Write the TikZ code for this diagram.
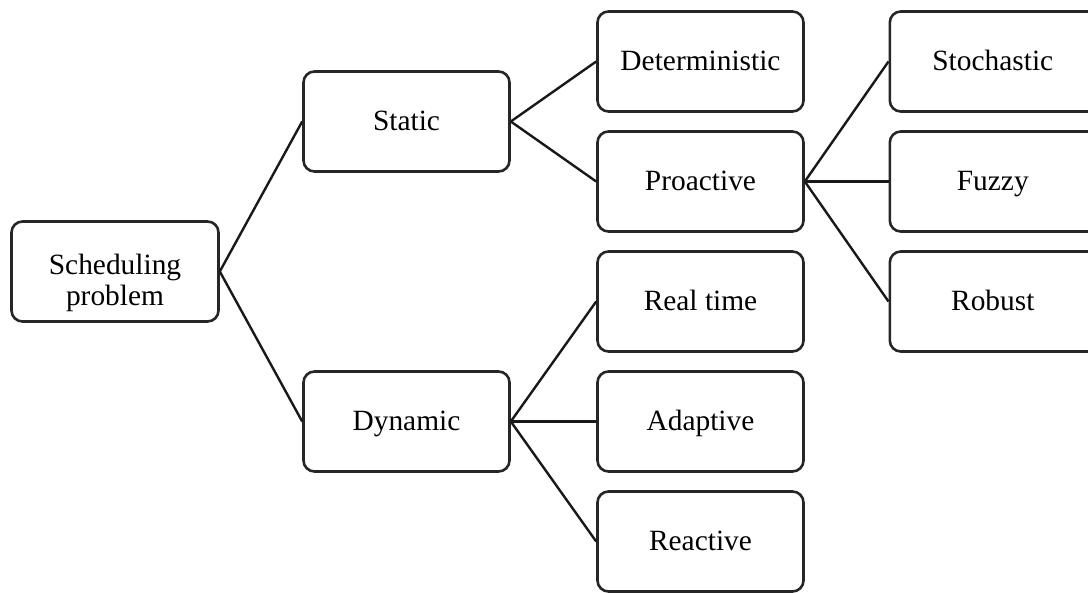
\documentclass[tikz,border=0pt]{standalone}
\usepackage{fontspec}
\setmainfont{Liberation Serif}
\begin{document}
\begin{tikzpicture}[x=1pt,y=-1pt,
  box/.style={draw=black!85, line width=2.6pt, rounded corners=11pt,
    minimum width=206pt, minimum height=100pt, inner sep=0pt,
    font=\fontsize{29.4}{31}\selectfont, text height=22pt, text depth=4pt},
  wide/.style={box, minimum width=236pt, anchor=west},
  link/.style={draw=black!90, line width=2.4pt}]
\useasboundingbox (0,0) rectangle (1088,593);
\node[box, minimum width=207pt, text height=72pt, text depth=4pt, align=center] (sched) at (115,271.5) {Scheduling\\problem};
\node[box] (static)  at (406.5,121.5) {Static};
\node[box] (dynamic) at (406.5,421.5) {Dynamic};
\node[box] (det)   at (700.5,61.5)  {Deterministic};
\node[box] (pro)   at (700.5,181.5) {Proactive};
\node[box] (rt)    at (700.5,301.5) {Real time};
\node[box] (ada)   at (700.5,421.5) {Adaptive};
\node[box] (rea)   at (700.5,541.5) {Reactive};
\node[wide] (sto)   at (888.5,61.5)  {Stochastic\hspace*{30pt}};
\node[wide] (fuz)   at (888.5,181.5) {Fuzzy\hspace*{30pt}};
\node[wide] (rob)   at (888.5,301.5) {Robust\hspace*{30pt}};
\draw[link] (sched.east) -- (static.west);
\draw[link] (sched.east) -- (dynamic.west);
\draw[link] (static.east) -- (det.west);
\draw[link] (static.east) -- (pro.west);
\draw[link] (pro.east) -- (sto.west);
\draw[link] (pro.east) -- (fuz.west);
\draw[link] (pro.east) -- (rob.west);
\draw[link] (dynamic.east) -- (rt.west);
\draw[link] (dynamic.east) -- (ada.west);
\draw[link] (dynamic.east) -- (rea.west);
\end{tikzpicture}
\end{document}
